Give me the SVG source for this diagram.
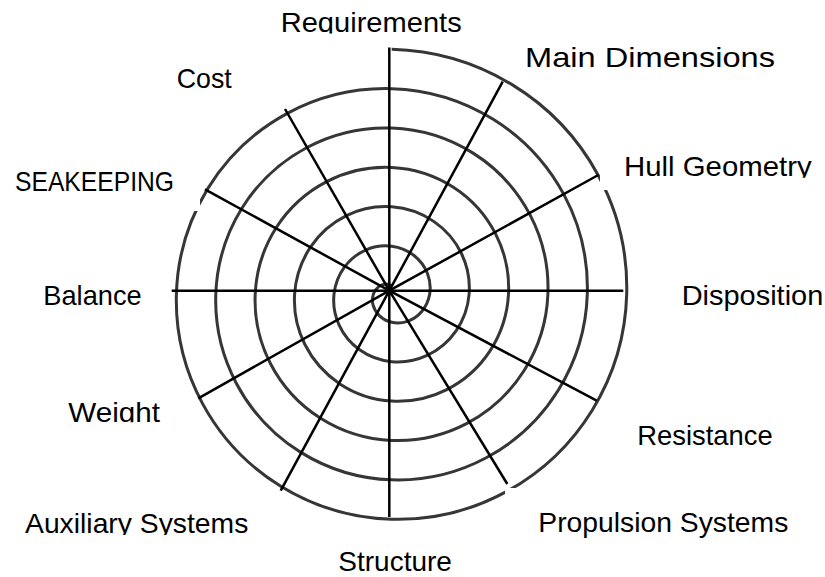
<svg xmlns="http://www.w3.org/2000/svg" width="825" height="577" viewBox="0 0 825 577">
<style>
.lbl{font-family:"Liberation Sans",Arial,sans-serif;font-size:28px;fill:#000}
.spiral{fill:none;stroke:#363636;stroke-width:3}
.spoke{stroke:#000;stroke-width:2.5;stroke-linecap:butt}
.box{fill:#fff}
</style>
<defs>
<clipPath id="cReq"><rect x="0" y="0" width="825" height="33.5"/></clipPath>
<clipPath id="cHull"><rect x="0" y="0" width="825" height="177.8"/></clipPath>
<clipPath id="cWeight"><rect x="0" y="0" width="825" height="422.3"/></clipPath>
<clipPath id="cAux"><rect x="0" y="0" width="825" height="535"/></clipPath>
</defs>
<rect width="825" height="577" fill="#fff"/>
<g id="spiral">
<path class="spiral" d="M 391.7 49.25 A 243.21 243.21 0 0 1 512.49 84.90 A 239.93 239.93 0 0 1 598.05 174.96 A 236.64 236.64 0 0 1 626.70 294.10 A 233.36 233.36 0 0 1 592.37 409.96 A 230.08 230.08 0 0 1 505.92 491.92 A 226.79 226.79 0 0 1 391.70 519.25 A 223.51 223.51 0 0 1 280.76 486.24 A 220.23 220.23 0 0 1 202.41 403.39 A 216.94 216.94 0 0 1 176.40 294.10 A 213.66 213.66 0 0 1 208.09 188.09 A 210.38 210.38 0 0 1 287.33 113.34 A 207.09 207.09 0 0 1 391.70 88.65 A 203.81 203.81 0 0 1 492.79 119.02 A 200.53 200.53 0 0 1 563.93 194.66 A 197.24 197.24 0 0 1 587.30 294.10 A 193.96 193.96 0 0 1 558.25 390.26 A 190.68 190.68 0 0 1 486.22 457.80 A 187.39 187.39 0 0 1 391.70 479.85 A 184.11 184.11 0 0 1 300.46 452.12 A 180.83 180.83 0 0 1 236.53 383.69 A 177.54 177.54 0 0 1 215.80 294.10 A 174.26 174.26 0 0 1 242.21 207.79 A 170.98 170.98 0 0 1 307.03 147.46 A 167.69 167.69 0 0 1 391.70 128.05 A 164.41 164.41 0 0 1 473.09 153.14 A 161.13 161.13 0 0 1 529.81 214.36 A 157.84 157.84 0 0 1 547.90 294.10 A 154.56 154.56 0 0 1 524.13 370.56 A 151.28 151.28 0 0 1 466.52 423.68 A 147.99 147.99 0 0 1 391.70 440.45 A 144.71 144.71 0 0 1 320.16 418.00 A 141.43 141.43 0 0 1 270.65 363.99 A 138.14 138.14 0 0 1 255.20 294.10 A 134.86 134.86 0 0 1 276.33 227.49 A 131.58 131.58 0 0 1 326.73 181.58 A 128.29 128.29 0 0 1 391.70 167.45 A 125.01 125.01 0 0 1 453.39 187.26 A 121.73 121.73 0 0 1 495.69 234.06 A 118.44 118.44 0 0 1 508.50 294.10 A 115.16 115.16 0 0 1 490.01 350.86 A 111.88 111.88 0 0 1 446.82 389.56 A 108.59 108.59 0 0 1 391.70 401.05 A 105.31 105.31 0 0 1 339.86 383.88 A 102.03 102.03 0 0 1 304.77 344.29 A 98.74 98.74 0 0 1 294.60 294.10 A 95.46 95.46 0 0 1 310.45 247.19 A 92.18 92.18 0 0 1 346.43 215.70 A 88.89 88.89 0 0 1 391.70 206.85 A 85.61 85.61 0 0 1 433.69 221.38 A 82.33 82.33 0 0 1 461.57 253.76 A 79.04 79.04 0 0 1 469.10 294.10 A 75.76 75.76 0 0 1 455.89 331.16 A 72.48 72.48 0 0 1 427.12 355.44 A 69.19 69.19 0 0 1 391.70 361.65 A 65.91 65.91 0 0 1 359.56 349.76 A 62.63 62.63 0 0 1 338.89 324.59 A 59.34 59.34 0 0 1 334.00 294.10 A 56.06 56.06 0 0 1 344.57 266.89 A 52.78 52.78 0 0 1 366.13 249.82 A 49.49 49.49 0 0 1 391.70 246.25 A 46.21 46.21 0 0 1 413.99 255.50 A 42.93 42.93 0 0 1 427.45 273.46 A 39.64 39.64 0 0 1 429.70 294.10 A 36.36 36.36 0 0 1 421.77 311.46 A 33.08 33.08 0 0 1 407.42 321.32 A 29.79 29.79 0 0 1 391.70 322.25 A 26.51 26.51 0 0 1 379.26 315.64 A 23.23 23.23 0 0 1 373.01 304.89 A 19.94 19.94 0 0 1 373.40 294.10 A 16.66 16.66 0 0 1 378.69 286.59 A 13.38 13.38 0 0 1 385.83 283.94 A 10.09 10.09 0 0 1 391.70 285.65"/>
</g>
<g id="connectors">
<line class="spoke" x1="389.3" y1="290.7" x2="389.3" y2="47.5"/>
<line class="spoke" x1="389.3" y1="290.7" x2="502.7" y2="81.7"/>
<line class="spoke" x1="389.3" y1="290.7" x2="598.3" y2="175"/>
<line class="spoke" x1="389.3" y1="290.7" x2="623.3" y2="290.7"/>
<line class="spoke" x1="389.3" y1="290.7" x2="596.7" y2="400.7"/>
<line class="spoke" x1="389.3" y1="290.7" x2="507.3" y2="484"/>
<line class="spoke" x1="389.3" y1="290.7" x2="389.3" y2="517"/>
<line class="spoke" x1="389.3" y1="290.7" x2="280.7" y2="490.7"/>
<line class="spoke" x1="389.3" y1="290.7" x2="198.3" y2="398.3"/>
<line class="spoke" x1="389.3" y1="290.7" x2="171.7" y2="290.7"/>
<line class="spoke" x1="389.3" y1="290.7" x2="205" y2="189.3"/>
<line class="spoke" x1="389.3" y1="290.7" x2="285" y2="109"/>
<circle cx="389.3" cy="290.7" r="3.5" fill="#000"/>
</g>
<g id="requirements"><text class="lbl" x="280.7" y="32.3" textLength="181" lengthAdjust="spacingAndGlyphs" clip-path="url(#cReq)">Requirements</text></g>
<g id="main-dimensions"><text class="lbl" x="525" y="66.7" textLength="250" lengthAdjust="spacingAndGlyphs">Main Dimensions</text></g>
<g id="hull-geometry"><rect class="box" x="600" y="140" width="225" height="50"/><text class="lbl" x="624" y="176" textLength="187.7" lengthAdjust="spacingAndGlyphs" clip-path="url(#cHull)">Hull Geometry</text></g>
<g id="disposition"><text class="lbl" x="681.7" y="305" textLength="141.6" lengthAdjust="spacingAndGlyphs">Disposition</text></g>
<g id="resistance"><text class="lbl" x="637.3" y="445" textLength="135.4" lengthAdjust="spacingAndGlyphs">Resistance</text></g>
<g id="propulsion-systems"><rect class="box" x="505" y="488" width="320" height="89"/><text class="lbl" x="538.3" y="531.7" textLength="250" lengthAdjust="spacingAndGlyphs">Propulsion Systems</text></g>
<g id="structure"><text class="lbl" x="338.3" y="571">Structure</text></g>
<g id="auxiliary-systems"><text class="lbl" x="25" y="533.3" textLength="223.3" lengthAdjust="spacingAndGlyphs" clip-path="url(#cAux)">Auxiliary Systems</text></g>
<g id="weight"><text class="lbl" x="68.3" y="421.6" textLength="91.7" lengthAdjust="spacingAndGlyphs" clip-path="url(#cWeight)">Weight</text></g>
<g id="balance"><text class="lbl" x="43.3" y="305" textLength="98.4" lengthAdjust="spacingAndGlyphs">Balance</text></g>
<g id="seakeeping"><rect class="box" x="0" y="160" width="200" height="51"/><text class="lbl" x="15" y="190.7" textLength="159" lengthAdjust="spacingAndGlyphs">SEAKEEPING</text></g>
<g id="cost"><text class="lbl" x="176.7" y="87.7" textLength="55" lengthAdjust="spacingAndGlyphs">Cost</text></g>
</svg>
